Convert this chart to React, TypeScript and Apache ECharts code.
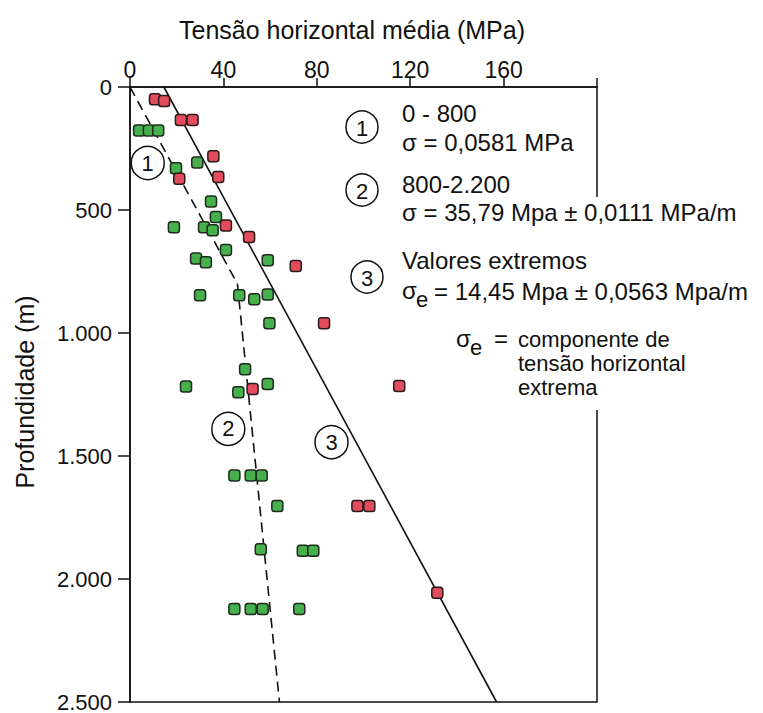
import React, { useEffect, useRef } from "react";
import * as echarts from "echarts";

// Data: [tensão horizontal (MPa), profundidade (m)]
const redPoints: number[][] = [
  [10.7, 50], [14.6, 57], [21.8, 134], [26.8, 134], [35.7, 282], [37.8, 366],
  [21.1, 373], [41.1, 563], [51, 610], [71, 728], [83.1, 960], [115.3, 1215],
  [52.5, 1228], [97.4, 1703], [102.5, 1703], [131.6, 2056],
];
const greenPoints: number[][] = [
  [3.9, 177], [8.1, 177], [12.1, 177], [28.8, 307], [19.7, 330], [34.7, 465],
  [36.8, 528], [18.8, 570], [31.7, 570], [35.4, 582], [41.1, 663], [28.3, 697],
  [32.5, 712], [59, 704], [30, 847], [46.8, 847], [53.2, 863], [59, 843],
  [59.7, 960], [49.3, 1147], [24, 1217], [46.4, 1241], [59, 1207],
  [44.7, 1579], [51.7, 1579], [56.4, 1579], [63.1, 1703], [56, 1879],
  [74, 1885], [78.5, 1885], [44.7, 2122], [51.7, 2122], [56.8, 2122], [72.5, 2122],
];
const trendDashed: number[][] = [[0, 0], [46, 800], [64, 2500]];
const trendSolid: number[][] = [[14.5, 0], [157, 2500]];
const circleMarkers: (number | string)[][] = [[7.6, 309, "1"], [42.1, 1390, "2"], [86.3, 1444, "3"]];

const xTickLabels: Record<number, string> = { 0: "0", 40: "40", 80: "80", 120: "120", 160: "160", 200: "" };
const yTickLabels: Record<number, string> = { 0: "0", 500: "500", 1000: "1.000", 1500: "1.500", 2000: "2.000", 2500: "2.500" };

const FONT = "'Liberation Sans', Arial, sans-serif";

export default function App() {
  const ref = useRef<HTMLDivElement>(null);
  useEffect(() => {
    if (!ref.current) return;
    const chart = echarts.init(ref.current, undefined, { renderer: "svg" });
    const txt = (x: number, y: number, text: string, size = 24, extra: any = {}) => ({
      type: "text",
      x,
      y,
      z: 100,
      style: { text, fontSize: size, fontFamily: FONT, fill: "#111", textVerticalAlign: "middle", ...extra },
    });
    const circ = (cx: number, cy: number, label: string) => ({
      type: "group",
      z: 100,
      children: [
        { type: "circle", shape: { cx, cy, r: 16 }, style: { fill: "#fff", stroke: "#111", lineWidth: 1.5 } },
        { type: "text", x: cx, y: cy + 1, style: { text: label, fontSize: 22, fontFamily: FONT, fill: "#111", textAlign: "center", textVerticalAlign: "middle" } },
      ],
    });
    const option: any = {
      animation: false,
      backgroundColor: "#fff",
      grid: { left: 130, top: 87, width: 467, height: 617, show: true, borderColor: "#111", borderWidth: 1.5, backgroundColor: "transparent" },
      xAxis: {
        type: "value",
        position: "top",
        min: 0,
        max: 200,
        interval: 40,
        axisLine: { show: true, lineStyle: { color: "#111", width: 1.5 } },
        axisTick: { show: true, length: 9, inside: false, lineStyle: { color: "#111", width: 1.5 } },
        axisLabel: { margin: 6, fontSize: 23, fontFamily: FONT, color: "#111", formatter: (v: number) => xTickLabels[v] ?? "" },
        splitLine: { show: false },
      },
      yAxis: {
        type: "value",
        inverse: true,
        min: 0,
        max: 2500,
        interval: 500,
        axisLine: { show: true, lineStyle: { color: "#111", width: 1.5 } },
        axisTick: { show: true, length: 12, lineStyle: { color: "#111", width: 1.5 } },
        axisLabel: { margin: 18, fontSize: 22, fontFamily: FONT, color: "#111", formatter: (v: number) => yTickLabels[v] ?? "" },
        splitLine: { show: false },
      },
      series: [
        { type: "line", data: trendDashed, symbol: "none", lineStyle: { color: "#111", width: 1.6, type: [10, 6] }, z: 2 },
        { type: "line", data: trendSolid, symbol: "none", lineStyle: { color: "#111", width: 1.6 }, z: 2 },
        {
          type: "scatter",
          data: greenPoints,
          symbol: "roundRect",
          symbolSize: 11,
          itemStyle: { color: "#46b04c", borderColor: "#1f2a1f", borderWidth: 1.5, opacity: 1 },
          z: 3,
        },
        {
          type: "scatter",
          data: redPoints,
          symbol: "roundRect",
          symbolSize: 11,
          itemStyle: { color: "#e34c5c", borderColor: "#2a1a1a", borderWidth: 1.5, opacity: 1 },
          z: 4,
        },
        {
          type: "scatter",
          data: circleMarkers,
          symbol: "circle",
          symbolSize: 33,
          itemStyle: { color: "#fff", borderColor: "#111", borderWidth: 1.5, opacity: 1 },
          label: { show: true, position: "inside", formatter: (p: any) => p.value[2], fontSize: 22, fontFamily: FONT, color: "#111" },
          z: 5,
        },
      ],
      graphic: [
        // mask right border behind the legend text
        { type: "rect", z: 90, shape: { x: 590, y: 197, width: 14, height: 213 }, style: { fill: "#fff" } },
        txt(352, 30, "Tensão horizontal média (MPa)", 25, { textAlign: "center" }),
        {
          type: "text",
          x: 25,
          y: 392,
          rotation: Math.PI / 2,
          z: 100,
          style: { text: "Profundidade (m)", fontSize: 25, fontFamily: FONT, fill: "#111", textAlign: "center", textVerticalAlign: "middle" },
        },
        circ(362, 127, "1"),
        txt(402, 113, "0 - 800"),
        txt(402, 142, "σ = 0,0581 MPa"),
        circ(362, 190, "2"),
        txt(402, 184, "800-2.200"),
        txt(402, 212, "σ = 35,79 Mpa ± 0,0111 MPa/m"),
        circ(367, 277, "3"),
        txt(402, 260, "Valores extremos"),
        txt(402, 290, "σ"),
        txt(416, 299, "e", 22),
        txt(434, 291, "= 14,45 Mpa ± 0,0563 Mpa/m"),
        txt(456, 338, "σ"),
        txt(470, 347, "e", 22),
        txt(494, 338, "="),
        txt(518, 339, "componente de", 22),
        txt(518, 363, "tensão horizontal", 22),
        txt(518, 387, "extrema", 22),
      ],
    };
    chart.setOption(option);
    return () => chart.dispose();
  }, []);
  return <div ref={ref} style={{ position: "absolute", left: 0, top: 0, width: 763, height: 713 }} />;
}
